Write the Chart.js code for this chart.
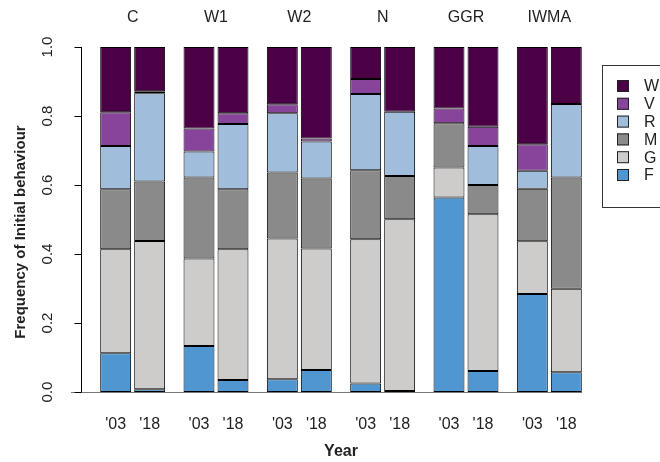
<!DOCTYPE html>
<html>
<head>
<meta charset="utf-8">
<script src="https://cdn.jsdelivr.net/npm/chart.js@4"></script>
<style>
  html, body { margin: 0; padding: 0; background: #fff; }
  #wrap { width: 660px; height: 462px; }
</style>
</head>
<body>
<div id="wrap"><canvas id="chart" width="660" height="462"></canvas></div>
<script>
// groups and years, bars ordered C'03, C'18, W1'03, W1'18, ...
const groups = ['C', 'W1', 'W2', 'N', 'GGR', 'IWMA'];
const years = ["'03", "'18"];
const behaviours = ['F', 'G', 'M', 'R', 'V', 'W']; // bottom to top
const yTicks = [0, 0.2, 0.4, 0.6, 0.8, 1.0];

// proportions per behaviour, 12 bars each
const F = [0.112, 0.008, 0.133, 0.035, 0.037, 0.064, 0.025, 0.003, 0.564, 0.061, 0.284, 0.057];
const G = [0.302, 0.430, 0.254, 0.379, 0.408, 0.352, 0.418, 0.498, 0.087, 0.454, 0.153, 0.242];
const M = [0.174, 0.172, 0.235, 0.174, 0.191, 0.203, 0.200, 0.125, 0.128, 0.085, 0.152, 0.323];
const R = [0.125, 0.256, 0.075, 0.189, 0.172, 0.107, 0.221, 0.186, 0.000, 0.113, 0.052, 0.213];
const V = [0.098, 0.006, 0.067, 0.031, 0.026, 0.009, 0.043, 0.000, 0.043, 0.056, 0.077, 0.000];
const W = [0.189, 0.128, 0.236, 0.192, 0.166, 0.265, 0.093, 0.188, 0.178, 0.231, 0.282, 0.165];

const values = { F, G, M, R, V, W };
const colors = {
    F: '#5096d0',
    G: '#cecbcb',
    M: '#8b8a8a',
    R: '#a0bddb',
    V: '#88449b',
    W: '#4b0046'
};

const FONT = '"Liberation Sans", Arial, Helvetica, sans-serif';

const datasets = [];
behaviours.forEach(b => {
    years.forEach((yr, yi) => {
        datasets.push({
            label: b,
            stack: yr,
            data: groups.map((g, gi) => values[b][gi * 2 + yi]),
            backgroundColor: colors[b],
            borderColor: '#000',
            borderWidth: 1,
            borderSkipped: false
        });
    });
});

// axes, labels and legend drawn around the plot
const decorations = {
    id: 'decorations',
    afterDraw(chart) {
        const ctx = chart.ctx;
        const x = chart.scales.x;
        const y = chart.scales.y;
        const y0 = y.getPixelForValue(0);
        const y1 = y.getPixelForValue(1);
        ctx.save();

        // baseline
        ctx.strokeStyle = '#777';
        ctx.lineWidth = 1;
        ctx.beginPath();
        ctx.moveTo(71, y0 + 0.5);
        ctx.lineTo(582, y0 + 0.5);
        ctx.stroke();

        // y axis
        const ax = 81.5;
        ctx.strokeStyle = '#000';
        ctx.beginPath();
        ctx.moveTo(ax, y0);
        ctx.lineTo(ax, y1);
        yTicks.forEach(t => {
            const py = Math.round(y.getPixelForValue(t)) + 0.5;
            ctx.moveTo(ax, py);
            ctx.lineTo(ax - 7, py);
        });
        ctx.stroke();

        ctx.fillStyle = '#222';
        ctx.textAlign = 'center';
        ctx.textBaseline = 'middle';
        ctx.font = '15px ' + FONT;
        yTicks.forEach(t => {
            ctx.save();
            ctx.translate(48, y.getPixelForValue(t));
            ctx.rotate(-Math.PI / 2);
            ctx.fillText(t.toFixed(1), 0, 0);
            ctx.restore();
        });

        ctx.save();
        ctx.font = 'bold 15px ' + FONT;
        ctx.translate(21, 232);
        ctx.rotate(-Math.PI / 2);
        ctx.fillText('Frequency of Initial behaviour', 0, 0);
        ctx.restore();

        // group names on top
        ctx.font = '16px ' + FONT;
        groups.forEach((g, i) => {
            ctx.fillText(g, x.getPixelForValue(i), 18);
        });

        // year labels under each bar
        const meta03 = chart.getDatasetMeta(0);
        const meta18 = chart.getDatasetMeta(1);
        groups.forEach((g, i) => {
            ctx.fillText(years[0], meta03.data[i].x, 425);
            ctx.fillText(years[1], meta18.data[i].x, 425);
        });

        ctx.font = 'bold 16px ' + FONT;
        ctx.fillText('Year', (chart.chartArea.left + chart.chartArea.right) / 2, 452);

        // legend
        ctx.strokeStyle = '#333';
        ctx.strokeRect(602.5, 65.5, 80, 142);
        ctx.textAlign = 'left';
        ctx.font = '16px ' + FONT;
        behaviours.slice().reverse().forEach((b, i) => {
            const cy = 86 + i * 17.8;
            ctx.fillStyle = colors[b];
            ctx.fillRect(617, cy - 6, 12, 12);
            ctx.strokeStyle = '#222';
            ctx.strokeRect(617.5, cy - 5.5, 11, 11);
            ctx.fillStyle = '#222';
            ctx.fillText(b, 644, cy + 1);
        });

        ctx.restore();
    }
};

new Chart(document.getElementById('chart'), {
    type: 'bar',
    data: { labels: groups, datasets },
    options: {
        responsive: false,
        animation: false,
        layout: { padding: { left: 91, right: 69, top: 47, bottom: 70 } },
        datasets: {
            bar: { categoryPercentage: 0.816, barPercentage: 0.91 }
        },
        scales: {
            x: { display: false, stacked: true },
            y: { display: false, stacked: true, min: 0, max: 1 }
        },
        plugins: {
            legend: { display: false },
            tooltip: { enabled: false }
        }
    },
    plugins: [decorations]
});
</script>
</body>
</html>
